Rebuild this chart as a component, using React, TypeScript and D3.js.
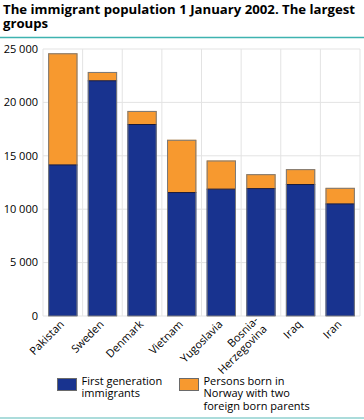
import React, { useEffect, useRef } from 'react';
import * as d3 from 'd3';

const countries = ['Pakistan', 'Sweden', 'Denmark', 'Vietnam', 'Yugoslavia', 'Bosnia-Herzegovina', 'Iraq', 'Iran'];
const firstGeneration = [14150, 22030, 17930, 11560, 11880, 11930, 12310, 10500];
const bornInNorway = [10450, 820, 1270, 4940, 2680, 1350, 1440, 1500];
const yTicks = [0, 5000, 10000, 15000, 20000, 25000];
const seriesNames = ['First generation\nimmigrants', 'Persons born in\nNorway with two\nforeign born parents'];
const seriesColors = ['#18338f', '#f7992f'];

const W = 364;
const H = 420;
const FONT = '"Open Sans", "DejaVu Sans", sans-serif';

export default function App() {
  const svgRef = useRef<SVGSVGElement>(null);

  useEffect(() => {
    if (!svgRef.current) return;
    const svg = d3.select(svgRef.current);
    svg.selectAll('*').remove();

    const margin = { top: 49, right: 4, bottom: 104, left: 43 };
    const innerW = W - margin.left - margin.right;
    const innerH = H - margin.top - margin.bottom;

    // Title
    const title = svg.append('text')
      .style('font-family', FONT)
      .style('font-weight', 'bold')
      .style('font-size', '13.2px')
      .style('fill', '#000');
    title.append('tspan').attr('x', 3).attr('y', 13.5).text('The immigrant population 1 January 2002. The largest');
    title.append('tspan').attr('x', 3).attr('y', 28).text('groups');

    svg.append('line')
      .attr('x1', 0).attr('x2', W).attr('y1', 37.5).attr('y2', 37.5)
      .style('stroke', '#3eb3b0').style('stroke-width', 1.5);

    const g = svg.append('g').attr('transform', `translate(${margin.left},${margin.top})`);

    const x = d3.scaleBand<string>().domain(countries).range([0, innerW]).paddingInner(0.26).paddingOuter(0.13);
    const y = d3.scaleLinear().domain([0, 25000]).range([innerH, 0]);

    // Grid
    g.selectAll('.hgrid').data(yTicks).enter().append('line')
      .attr('x1', 0).attr('x2', innerW)
      .attr('y1', d => y(d)).attr('y2', d => y(d))
      .style('stroke', '#e3e3e3');

    const step = x.step();
    const bounds = d3.range(countries.length + 1).map(i => i * step);
    g.selectAll('.vgrid').data(bounds).enter().append('line')
      .attr('x1', d => d).attr('x2', d => d)
      .attr('y1', 0).attr('y2', innerH)
      .style('stroke', '#e3e3e3');

    // Y axis labels
    g.selectAll('.ylab').data(yTicks).enter().append('text')
      .attr('x', -5)
      .attr('y', d => y(d))
      .attr('dy', '0.35em')
      .attr('text-anchor', 'end')
      .style('font-family', FONT)
      .style('font-size', '11px')
      .style('fill', '#000')
      .text(d => d === 0 ? '0' : d3.format(',')(d).replace(',', ' '));

    // Stacked bars
    const rows = countries.map((c, i) => ({ c, a: firstGeneration[i], b: bornInNorway[i] }));
    const bars = g.selectAll('.bar').data(rows).enter().append('g');

    bars.append('rect')
      .attr('x', d => x(d.c)!)
      .attr('width', x.bandwidth())
      .attr('y', d => y(d.a))
      .attr('height', d => innerH - y(d.a))
      .style('fill', seriesColors[0]);

    bars.append('rect')
      .attr('x', d => x(d.c)!)
      .attr('width', x.bandwidth())
      .attr('y', d => y(d.a + d.b))
      .attr('height', d => y(d.a) - y(d.a + d.b))
      .style('fill', seriesColors[1]);

    bars.append('line')
      .attr('x1', d => x(d.c)!).attr('x2', d => x(d.c)! + x.bandwidth())
      .attr('y1', d => y(d.a)).attr('y2', d => y(d.a))
      .style('stroke', '#1a1a3a').style('stroke-width', 1);

    bars.append('rect')
      .attr('x', d => x(d.c)! + 0.5)
      .attr('width', x.bandwidth() - 1)
      .attr('y', d => y(d.a + d.b) + 0.5)
      .attr('height', d => innerH - y(d.a + d.b) - 0.5)
      .style('fill', 'none')
      .style('stroke', '#7a7a7a')
      .style('stroke-width', 1);

    // X labels, rotated
    const xl = g.selectAll('.xlab').data(countries).enter().append('text')
      .attr('transform', d => `translate(${x(d)! + x.bandwidth() / 2 + 2},${innerH + 9}) rotate(-45)`)
      .attr('text-anchor', 'end')
      .style('font-family', FONT)
      .style('font-size', '11px')
      .style('fill', '#000');
    xl.each(function (d) {
      const t = d3.select(this);
      const parts = d === 'Bosnia-Herzegovina' ? ['Bosnia-', 'Herzegovina'] : [d];
      parts.forEach((p, i) => {
        t.append('tspan').attr('x', 0).attr('dy', i === 0 ? (parts.length > 1 ? '-0.5em' : '0') : '1.1em').text(p);
      });
    });

    // Legend
    const legendX = [57, 179];
    seriesNames.forEach((name, i) => {
      const lg = svg.append('g').attr('transform', `translate(${legendX[i]},378)`);
      lg.append('rect')
        .attr('x', 0.5).attr('y', 0.5).attr('width', 19).attr('height', 12)
        .style('fill', seriesColors[i])
        .style('stroke', '#6a6a6a');
      const t = lg.append('text')
        .style('font-family', FONT)
        .style('font-size', '11px')
        .style('fill', '#000');
      name.split('\n').forEach((line, j) => {
        t.append('tspan').attr('x', 24.5).attr('y', 7 + j * 12.3).text(line);
      });
    });

    svg.append('line')
      .attr('x1', 0).attr('x2', W).attr('y1', 418).attr('y2', 418)
      .style('stroke', '#8fd1cf').style('stroke-width', 1.5);
  }, []);

  return (
    <svg ref={svgRef} width={W} height={H} style={{ position: 'absolute', left: 0, top: 0, background: '#fff' }} />
  );
}
